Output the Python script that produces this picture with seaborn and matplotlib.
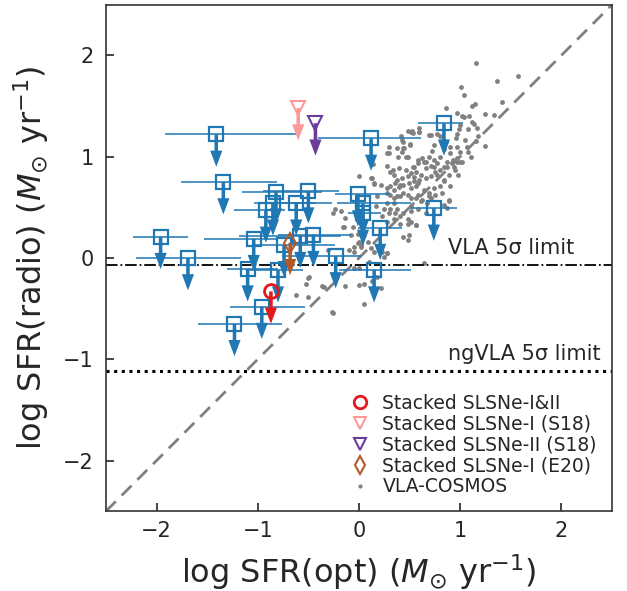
import numpy as np
import matplotlib
matplotlib.use('Agg')
import matplotlib.pyplot as plt
from matplotlib.lines import Line2D
import seaborn as sns

# ------------------------------------------------------------
# data
# ------------------------------------------------------------
# SLSN hosts: optical SFR, radio upper limits, x error (lo, hi)
slsn_x = [-1.41, -1.34, -0.82, -0.50, -0.01, -0.85, -0.62, -0.92, 0.04, 0.04,
          0.21, 0.74, 0.12, 0.84, -1.96, -1.04, -0.58, -0.45, -0.74, -1.69,
          -1.10, -0.80, -0.23, 0.15, -0.96, -1.23]
slsn_y = [1.22, 0.75, 0.65, 0.66, 0.63, 0.54, 0.54, 0.47, 0.54, 0.44,
          0.30, 0.49, 1.18, 1.33, 0.21, 0.19, 0.22, 0.23, 0.13, 0.00,
          -0.11, -0.12, 0.02, -0.12, -0.48, -0.65]
slsn_xerr_lo = [0.51, 0.42, 0.34, 0.45, 0.23, 0.19, 0.25, 0.31, 0.26, 0.15,
                0.22, 0.23, 0.52, 0.26, 0.27, 0.49, 0.61, 0.35, 0.30, 0.51,
                0.20, 0.30, 0.53, 0.35, 0.31, 0.36]
slsn_xerr_hi = [0.79, 0.53, 0.45, 0.30, 0.32, 0.43, 0.35, 0.19, 0.47, 0.18,
                0.22, 0.23, 0.49, 0.19, 0.27, 0.24, 0.40, 0.37, 0.50, 0.52,
                0.30, 0.25, 0.25, 0.36, 0.43, 0.47]

# stacked limits
stack_labels = ['Stacked SLSNe-I&II', 'Stacked SLSNe-I (S18)',
                'Stacked SLSNe-II (S18)', 'Stacked SLSNe-I (E20)']
stack_x = [-0.87, -0.60, -0.43, -0.68]
stack_y = [-0.33, 1.48, 1.33, 0.15]
stack_markers = ['o', 'v', 'v', 'd']
stack_colors = ['#e31a1c', '#fb9a99', '#6a3d9a', '#b15928']

# VLA-COSMOS comparison sample
cosmos_x = [1.16, 1.57, 1.36, 1.01, 1.04, 1.41, 1.15, 1.12, 0.86, 0.97,
            1.02, 1.04, 1.09, 1.25, 1.33, 1.12, 1.14, 1.00, 0.99, 1.08,
            1.17, 0.52, 0.59, 0.71, 0.77, 0.80, 0.97, 0.96, 1.05, 1.18,
            1.16, 0.44, 0.50, 0.45, 0.74, 0.82, 0.85, 0.90, 0.97, 1.07,
            1.25, 0.72, 0.84, 0.90, 1.00, 1.08, 1.11, 0.48, 0.58, 0.62,
            0.66, 0.69, 0.74, 0.77, 0.80, 0.87, 0.93, 1.02, 0.84, 0.74,
            0.54, 0.42, 0.51, 0.59, 0.69, 0.43, 0.50, 0.44, 0.30, 0.28,
            0.39, 0.46, 0.14, 0.28, 0.34, 0.40, 0.46, 0.53, 0.58, 0.64,
            0.31, 0.35, 0.38, 0.43, 0.48, 0.51, 0.56, 0.61, 0.66, 0.71,
            0.75, 0.80, 0.87, 0.92, 0.97, 1.00, 0.95, 0.98, 0.12, 0.15,
            0.22, 0.28, 0.35, 0.40, 0.44, 0.49, 0.54, 0.59, 0.66, 0.71,
            0.77, 0.84, 0.90, 0.31, 0.38, 0.44, 0.51, 0.58, 0.62, 0.69,
            0.75, 0.82, 0.89, 0.35, 0.51, 0.67, 0.84, 0.15, 0.31, 0.36,
            0.41, 0.51, 0.56, 0.18, 0.28, 0.35, 0.41, 0.48, -0.26, -0.18,
            -0.24, 0.17, 0.25, 0.30, 0.38, 0.44, 0.51, 0.23, 0.28, 0.35,
            0.41, 0.48, -0.15, -0.08, -0.01, 0.00, 0.02, -0.05, -0.10, -0.05,
            0.09, 0.12, 0.15, 0.23, 0.28, 0.49, 0.48, -0.31, -0.50, -0.37,
            -0.14, -0.49, -0.52, -0.62, -0.50, -0.35, 0.00, 0.05, 0.22, 0.05,
            -0.26, -0.05, 0.00, 0.10, 0.89, 0.87, 0.56, 0.51, 0.64, 0.54,
            0.58, 0.64, 0.69, 0.74, 0.80, 0.84, 0.89, 0.94, 0.97, 0.56,
            0.61, 0.71, 0.58, 0.66, 0.00, -0.14, -0.06, -0.16, -0.01, 0.02,
            0.28, 0.31, 0.36, 0.41, 0.48, 0.56, 0.44, 0.28, 0.25, 0.18,
            0.13, -0.27, 0.13, 0.30, 0.38, 0.48, 0.53, 0.59, 0.43]
cosmos_y = [1.92, 1.80, 1.75, 1.69, 1.61, 1.54, 1.52, 1.50, 1.48, 1.43,
            1.40, 1.39, 1.40, 1.42, 1.41, 1.34, 1.32, 1.31, 1.27, 1.27,
            1.28, 1.25, 1.24, 1.21, 1.22, 1.20, 1.22, 1.18, 1.16, 1.20,
            1.15, 1.14, 1.12, 1.09, 1.12, 1.15, 1.15, 1.10, 1.10, 1.10,
            1.11, 1.06, 1.08, 1.04, 1.05, 1.05, 1.00, 1.00, 0.97, 0.99,
            0.95, 1.00, 0.97, 0.94, 1.00, 0.95, 0.97, 0.95, 0.90, 0.90,
            0.90, 1.20, 1.24, 1.24, 1.21, 1.16, 1.13, 1.09, 1.10, 1.04,
            1.00, 1.00, 0.93, 0.91, 0.87, 0.89, 0.87, 0.90, 0.94, 0.95,
            0.85, 0.82, 0.77, 0.79, 0.81, 0.84, 0.85, 0.82, 0.89, 0.91,
            0.85, 0.87, 0.90, 0.94, 0.99, 0.95, 0.87, 0.82, 0.79, 0.74,
            0.72, 0.69, 0.67, 0.70, 0.72, 0.74, 0.76, 0.77, 0.79, 0.81,
            0.82, 0.77, 0.71, 0.62, 0.61, 0.64, 0.59, 0.62, 0.57, 0.61,
            0.62, 0.64, 0.57, 0.54, 0.51, 0.54, 0.52, 0.73, 0.71, 0.74,
            0.72, 0.69, 0.71, 0.61, 0.64, 0.59, 0.61, 0.62, 0.44, 0.46,
            0.48, 0.51, 0.48, 0.44, 0.48, 0.44, 0.46, 0.41, 0.36, 0.38,
            0.34, 0.34, 0.31, 0.23, 0.24, 0.16, 0.13, 0.11, 0.08, 0.06,
            0.16, 0.10, 0.06, 0.06, 0.05, 0.23, 0.18, 0.08, -0.20, -0.28,
            -0.28, -0.19, -0.26, -0.37, -0.39, -0.29, -0.27, -0.26, -0.30, -0.45,
            -0.54, -0.10, -0.10, -0.04, 0.56, 0.49, 0.33, 0.36, -0.05, 0.80,
            0.74, 0.67, 0.64, 0.69, 0.71, 0.76, 0.82, 0.90, 0.95, 0.59,
            0.56, 0.59, 0.48, 0.44, 0.81, 0.39, 0.31, 0.31, 0.15, 0.11,
            0.54, 0.48, 0.44, 0.41, 0.38, 0.33, 0.21, 0.05, 0.01, -0.19,
            -0.23, -0.53, 0.79, 1.04, 1.09, 1.25, 1.23, 1.28, 1.05]

vla_limit = -0.07
ngvla_limit = -1.12

# ------------------------------------------------------------
# plot
# ------------------------------------------------------------
sns.set_style('ticks')
plt.rcParams['font.family'] = ['DejaVu Sans']

fig = plt.figure(figsize=(6.27, 5.91), dpi=100)
ax = fig.add_axes([0.169, 0.135, 0.807, 0.857])

# 1:1 line
ax.plot([-2.5, 2.5], [-2.5, 2.5], color='grey', lw=2, dashes=(5, 3), zorder=1)

# VLA-COSMOS
sns.scatterplot(x=cosmos_x, y=cosmos_y, color='grey', s=12, linewidth=0,
                ax=ax, zorder=2, legend=False)

# sensitivity limits
ax.axhline(vla_limit, color='black', lw=1.3, linestyle='-.', zorder=2)
ax.axhline(ngvla_limit, color='black', lw=2.2, linestyle=(0, (1, 1.5)), zorder=2)
ax.text(0.88, vla_limit + 0.07, 'VLA 5σ limit', fontsize=15, va='bottom')
ax.text(0.88, ngvla_limit + 0.07, 'ngVLA 5σ limit', fontsize=15, va='bottom')

# individual SLSN hosts (upper limits)
blue = '#1f77b4'
ax.errorbar(slsn_x, slsn_y, xerr=[slsn_xerr_lo, slsn_xerr_hi], fmt='none',
            ecolor=blue, elinewidth=1.3, alpha=0.85, zorder=3)
ax.plot(slsn_x, slsn_y, 's', ms=10, mfc='none', mec=blue, mew=1.6, zorder=4)
for x, y in zip(slsn_x, slsn_y):
    ax.arrow(x, y, 0, -0.32, width=0.035, head_width=0.12, head_length=0.16,
             length_includes_head=True, color=blue, lw=0, zorder=4)

# stacked limits
for x, y, m, c in zip(stack_x, stack_y, stack_markers, stack_colors):
    ax.arrow(x, y, 0, -0.32, width=0.035, head_width=0.12, head_length=0.16,
             length_includes_head=True, color=c, lw=0, zorder=5)
    ax.plot(x, y, m, ms=10, mfc='none', mec=c, mew=2 if m == 'o' else 1.5, zorder=6)

ax.set_xlim(-2.5, 2.5)
ax.set_ylim(-2.5, 2.5)
ax.set_xticks([-2, -1, 0, 1, 2])
ax.set_yticks([-2, -1, 0, 1, 2])
ax.tick_params(direction='in', labelsize=15, length=6, width=1.2)
ax.tick_params(axis='x', pad=7)
ax.tick_params(axis='y', pad=9)
for s in ax.spines.values():
    s.set_linewidth(1.2)
    s.set_color('#333333')

ax.set_xlabel(r'log SFR(opt) ($M_{\odot}$ yr$^{-1}$)', fontsize=23, labelpad=8)
ax.set_ylabel(r'log SFR(radio) ($M_{\odot}$ yr$^{-1}$)', fontsize=23)
ax.yaxis.set_label_coords(-0.108, 0.5)

handles = []
for lab, m, c in zip(stack_labels, stack_markers, stack_colors):
    handles.append(Line2D([], [], ls='none', marker=m, ms=9, mfc='none', mec=c,
                          mew=2 if m == 'o' else 1.5, label=lab))
handles.append(Line2D([], [], ls='none', marker='o', ms=3, color='grey',
                      mec='none', label='VLA-COSMOS'))
ax.legend(handles=handles, loc='lower right', frameon=False, fontsize=13.5,
          handletextpad=0.5, handlelength=1.4, labelspacing=0.1,
          borderaxespad=0.4)

fig.savefig('out.png', dpi=100)
